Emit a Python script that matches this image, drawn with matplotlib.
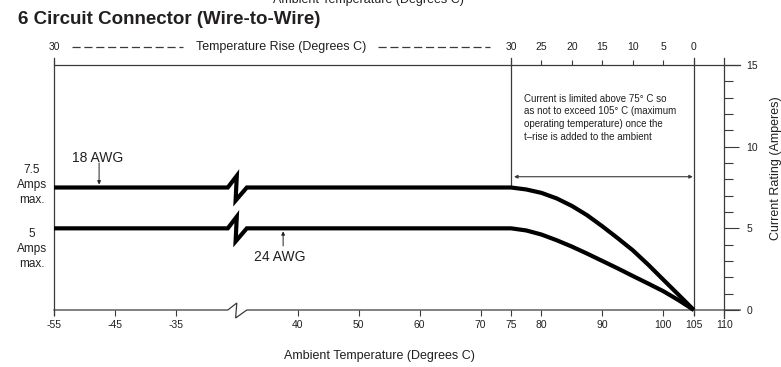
import matplotlib
matplotlib.use("Agg")
import matplotlib.pyplot as plt
from matplotlib import font_manager as fm
import numpy as np

# ---------------- data ----------------
bottom_ticks = [-55, -45, -35, 40, 50, 60, 70, 75, 80, 90, 100, 105, 110]
top_ticks_ambient = [75, 80, 85, 90, 95, 100, 105]
top_tick_labels = ["30", "25", "20", "15", "10", "5", "0"]
right_major = [0, 5, 10, 15]
right_minor = list(range(0, 16))

flat_start = -55
limit_temp = 75
max_temp = 105
amps_18_max = 7.5
amps_24_max = 5.0
curve_temps = [75, 77.5, 80, 82.5, 85, 87.5, 90, 92.5, 95, 97.5, 100, 102.5, 105]
curve_18awg = [7.5, 7.38, 7.17, 6.83, 6.37, 5.8, 5.12, 4.4, 3.65, 2.78, 1.85, 0.93, 0.0]
curve_24awg = [5.0, 4.87, 4.62, 4.27, 3.88, 3.45, 3.0, 2.55, 2.08, 1.62, 1.15, 0.6, 0.0]

# axis break: temperatures between -25 and 30 are removed
BREAK_LO, BREAK_HI = -25, 30
def xmap(t):
    t = np.asarray(t, dtype=float)
    return np.where(t <= BREAK_LO, t, t - (BREAK_HI - BREAK_LO))

# ---------------- fonts ----------------
plt.rcParams['font.family'] = ['Liberation Sans', 'DejaVu Sans']
try:
    fm.findfont(fm.FontProperties(family='Liberation Sans Narrow', weight='bold'),
                fallback_to_default=False)
    title_family, title_size = 'Liberation Sans Narrow', 16
except Exception:
    title_family, title_size = 'Liberation Sans', 13.5

TXT = '#231f20'
LN = '#3a3a3a'

W, H = 781, 367
fig = plt.figure(figsize=(W / 100, H / 100), dpi=100)
x0px, x1px, y0px, y1px = 54, 724.3, 310, 65
ax = fig.add_axes([x0px / W, 1 - y0px / H, (x1px - x0px) / W, (y0px - y1px) / H])
xl = (float(xmap(-55)), float(xmap(110)))
ax.set_xlim(*xl)
ax.set_ylim(0, 15)
pxx = (xl[1] - xl[0]) / (x1px - x0px)   # data units per px (x)
pxy = 15 / (y0px - y1px)                # data units per px (y)
for s in ax.spines.values():
    s.set_visible(False)

# top axis (temperature rise) -- twin sharing y
ax2 = ax.twiny()
ax2.set_xlim(*xl)
for s in ax2.spines.values():
    s.set_visible(False)
ax2.set_xticks(list(xmap([-55] + top_ticks_ambient)))
ax2.set_xticklabels(["30"] + top_tick_labels)
ax2.tick_params(axis='x', direction='out', length=3.6, width=0.8, color=LN,
                labelsize=7.5, labelcolor=TXT, pad=5.5)

# bottom ticks
ax.set_xticks(xmap(bottom_ticks))
ax.set_xticklabels([str(t) for t in bottom_ticks])
ax.tick_params(axis='x', direction='out', length=4.3, width=0.8, color=LN,
               labelsize=7.5, labelcolor=TXT, pad=3.2)
# right axis
ax.yaxis.tick_right()
ax.set_yticks(right_major)
ax.set_yticks(right_minor, minor=True)
ax.set_yticklabels([str(v) for v in right_major])
ax.tick_params(axis='y', which='major', direction='out', length=10.8, width=0.8,
               color=LN, labelsize=7.5, labelcolor=TXT, pad=5.0,
               right=True, labelright=True, left=False, labelleft=False)
ax.tick_params(axis='y', which='minor', direction='out', length=6.5, width=0.8, color=LN,
               right=True, left=False)

# break geometry
bs = float(xmap(BREAK_LO)) - 9 * pxx
be = float(xmap(BREAK_LO)) + 10 * pxx
bp = float(xmap(BREAK_LO)) + 0.0 * pxx
bq = float(xmap(BREAK_LO)) - 1.2 * pxx
xr_end = xl[1] + 16 * pxx
ext_top = 15 + 7 * pxy

# frame lines
ax.plot([xl[0], bs, bp, bq, be, xr_end], [0, 0, 7 * pxy, -8 * pxy, 0, 0],
        color=LN, lw=0.9, clip_on=False, solid_joinstyle='miter')
ax.plot([xl[0], xr_end], [15, 15], color=LN, lw=0.9, clip_on=False)
ax.plot([xl[0], xl[0]], [ext_top, -5 * pxy], color=LN, lw=0.9, clip_on=False)
ax.plot([xmap(limit_temp)] * 2, [ext_top, amps_18_max], color=LN, lw=0.9, clip_on=False)
ax.plot([xmap(max_temp)] * 2, [ext_top, -5 * pxy], color=LN, lw=0.9, clip_on=False)
ax.plot([xl[1]] * 2, [ext_top, -8 * pxy], color=LN, lw=0.9, clip_on=False)

# current curves
def wire(vmax, curve):
    xs = [float(xmap(flat_start)), bs, bp, bq, be] + list(xmap(curve_temps))
    ys = [vmax, vmax, vmax + 0.72, vmax - 0.8, vmax] + list(curve)
    ax.plot(xs, ys, color='black', lw=3.0, solid_joinstyle='miter',
            solid_capstyle='butt', clip_on=False, zorder=5)
wire(amps_18_max, curve_18awg)
wire(amps_24_max, curve_24awg)

# double arrow
ya = 8.16
ax.annotate('', xy=(float(xmap(limit_temp)) + 3 * pxx, ya), xytext=(float(xmap(max_temp)) - 1 * pxx, ya),
            arrowprops=dict(arrowstyle='<|-|>', lw=0.8, color=LN, mutation_scale=5,
                            shrinkA=0, shrinkB=0))
ax.text(22.13, 13.25, "Current is limited above 75° C so\nas not to exceed 105° C (maximum\n"
        "operating temperature) once the\nt\u2013rise is added to the ambient",
        fontsize=7, color=TXT, ha='left', va='top', linespacing=1.36)

# wire labels
ax.annotate('', xy=(-47.6, 7.5 + 3 * pxy), xytext=(-47.6, 9.0),
            arrowprops=dict(arrowstyle='-|>', lw=0.7, color=TXT, mutation_scale=5,
                            shrinkA=0, shrinkB=0))
ax.text(-52.05, 9.31, "18 AWG", fontsize=10, color=TXT, ha='left', va='center')
ax.annotate('', xy=(float(xmap(37.6)), 5.0 - 3 * pxy), xytext=(float(xmap(37.6)), 3.92),
            arrowprops=dict(arrowstyle='-|>', lw=0.7, color=TXT, mutation_scale=5,
                            shrinkA=0, shrinkB=0))
ax.text(-22.2, 3.25, "24 AWG", fontsize=10, color=TXT, ha='left', va='center')

ax.text(-55 - 22 * pxx, 7.65, "7.5\nAmps\nmax.", fontsize=8.5, color=TXT,
        ha='center', va='center', linespacing=1.3)
ax.text(-55 - 22 * pxx, 3.73, "5\nAmps\nmax.", fontsize=8.5, color=TXT,
        ha='center', va='center', linespacing=1.3)

# top dashed label
yd = 15 + 18 * pxy
ax.plot([-55 + 18 * pxx, -55 + 129 * pxx], [yd, yd], color=LN, lw=0.9,
        dashes=(6.5, 3.0), clip_on=False)
ax.plot([-55 + 324 * pxx, -55 + 436 * pxx], [yd, yd], color=LN, lw=0.9,
        dashes=(6.5, 3.0), clip_on=False)
ax.text(-55 + 227.5 * pxx, yd, "Temperature Rise (Degrees C)", fontsize=9,
        color=TXT, ha='center', va='center')

# titles / axis labels
fig.text(18 / W, 1 - 19 / H, "6 Circuit Connector (Wire-to-Wire)", fontsize=title_size,
         weight='bold', family=title_family, color=TXT, ha='left', va='center')
fig.text(368 / W, 1 - 3 / H, "Ambient Temperature (Degrees C)", fontsize=9,
         color=TXT, ha='center', va='baseline')
fig.text(379 / W, 1 - 356 / H, "Ambient Temperature (Degrees C)", fontsize=9,
         color=TXT, ha='center', va='center')
fig.text(770 / W, 1 - 168 / H, "Current Rating (Amperes)", fontsize=9, color=TXT,
         rotation=90, ha='left', va='center')

fig.savefig("out.png", dpi=100)
